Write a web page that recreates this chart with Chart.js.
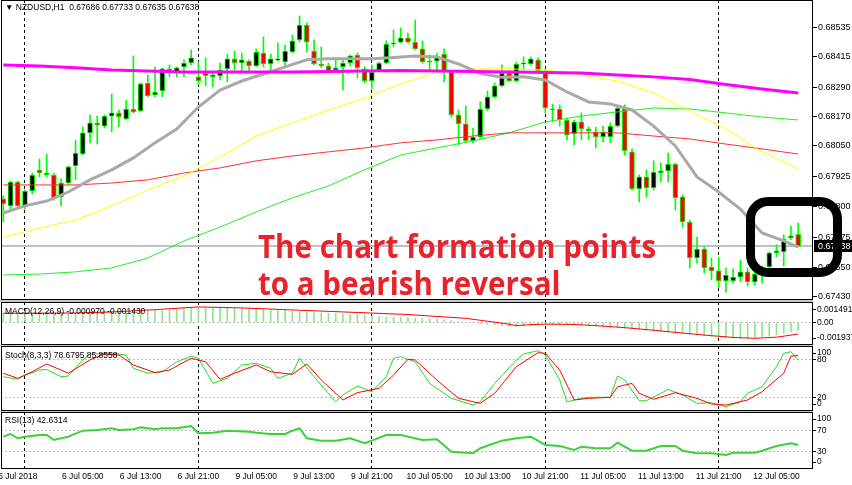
<!DOCTYPE html>
<html>
<head>
<meta charset="utf-8">
<title>NZDUSD H1</title>
<script src="https://cdn.jsdelivr.net/npm/chart.js@4.4.1/dist/chart.umd.min.js"></script>
<style>
  html, body { margin: 0; padding: 0; background: #fff; }
  #stage { position: relative; width: 852px; height: 485px; overflow: hidden; font-family: "Liberation Sans", Arial, sans-serif; }
  #stage canvas { position: absolute; left: 0; }
  .gap { position: absolute; left: 0; width: 813px; background: #c8c8c8; }
  .cap { position: absolute; font-size: 8.5px; line-height: 10px; color: #000; white-space: nowrap; }
  #note { position: absolute; left: 258px; top: 227px; color: #e8232b; font-family: "Open Sans", sans-serif; font-weight: bold; font-size: 33px; line-height: 37px; white-space: nowrap; transform: scaleX(0.895); transform-origin: 0 0; }
  #box { position: absolute; left: 746px; top: 197px; width: 96px; height: 80px; box-sizing: border-box; border: 9px solid #000; border-radius: 22px; }
</style>
</head>
<body>
<div id="stage">
  <canvas id="main" width="852" height="300" style="top:0"></canvas>
  <div class="gap" style="top:300px;height:2px"></div>
  <canvas id="macd" width="852" height="43" style="top:302px"></canvas>
  <div class="gap" style="top:345px;height:1px"></div>
  <canvas id="stoch" width="852" height="65" style="top:346px"></canvas>
  <div class="gap" style="top:411px;height:1px"></div>
  <canvas id="rsi" width="852" height="73" style="top:412px"></canvas>

  <div class="cap" style="left:5px;top:2px">&#9660; NZDUSD,H1&nbsp; 0.67686 0.67733 0.67635 0.67638</div>
  <div class="cap" style="left:5px;top:306px">MACD(12,26,9) -0.000970 -0.001430</div>
  <div class="cap" style="left:5px;top:350px">Stoch(8,3,3) 78.6795 85.8558</div>
  <div class="cap" style="left:5px;top:415px">RSI(13) 42.6314</div>

  <div id="note">The chart formation points<br>to a bearish reversal</div>
  <div id="box"></div>
</div>
<script>
// H1 candles, oldest first. Bar 3 is 5 Jul 21:00, bar 110 the live one.
const open = [
  0.67832,0.67803,0.67901,0.67799,0.67864,0.67951,0.67930,0.67930,0.67840,0.67897,
  0.67967,0.68016,0.68103,0.68144,0.68131,0.68172,0.68185,0.68160,0.68201,0.68193,
  0.68308,0.68259,0.68275,0.68366,0.68349,0.68374,0.68390,0.68333,0.68349,0.68333,
  0.68337,0.68366,0.68407,0.68390,0.68398,0.68378,0.68431,0.68386,0.68403,0.68394,
  0.68435,0.68485,0.68546,0.68439,0.68386,0.68378,0.68361,0.68374,0.68390,0.68423,
  0.68366,0.68316,0.68357,0.68390,0.68468,0.68476,0.68493,0.68476,0.68448,0.68398,
  0.68398,0.68427,0.68353,0.68177,0.68140,0.68070,0.68086,0.68201,0.68251,0.68296,
  0.68349,0.68316,0.68386,0.68386,0.68403,0.68357,0.68201,0.68201,0.68156,0.68099,
  0.68148,0.68119,0.68107,0.68086,0.68086,0.68131,0.68209,0.68025,0.67873,0.67922,
  0.67877,0.67938,0.67947,0.67975,0.67840,0.67737,0.67589,0.67626,0.67552,0.67536,
  0.67495,0.67495,0.67511,0.67532,0.67491,0.67523,0.67552,0.67610,0.67614,0.67671,
  0.67686
];
const high = [
  0.67844,0.67905,0.67905,0.67868,0.67938,0.67996,0.68016,0.67938,0.67914,0.67967,
  0.68074,0.68127,0.68177,0.68172,0.68177,0.68263,0.68197,0.68238,0.68419,0.68308,
  0.68341,0.68374,0.68370,0.68382,0.68374,0.68403,0.68444,0.68394,0.68411,0.68349,
  0.68390,0.68427,0.68439,0.68431,0.68403,0.68448,0.68497,0.68427,0.68472,0.68464,
  0.68505,0.68583,0.68555,0.68485,0.68456,0.68390,0.68411,0.68403,0.68423,0.68431,
  0.68374,0.68382,0.68394,0.68481,0.68526,0.68534,0.68513,0.68567,0.68481,0.68423,
  0.68431,0.68448,0.68357,0.68197,0.68214,0.68123,0.68230,0.68275,0.68308,0.68382,
  0.68361,0.68394,0.68415,0.68415,0.68411,0.68366,0.68222,0.68218,0.68164,0.68156,
  0.68185,0.68127,0.68127,0.68131,0.68144,0.68214,0.68218,0.68037,0.67930,0.67951,
  0.67988,0.67979,0.68020,0.67979,0.67848,0.67745,0.67675,0.67634,0.67589,0.67593,
  0.67548,0.67544,0.67581,0.67548,0.67532,0.67556,0.67614,0.67643,0.67684,0.67720,
  0.67733
];
const low = [
  0.67737,0.67786,0.67795,0.67790,0.67852,0.67922,0.67922,0.67827,0.67803,0.67889,
  0.67910,0.68012,0.68062,0.68057,0.68123,0.68107,0.68127,0.68156,0.68185,0.68189,
  0.68251,0.68251,0.68251,0.68333,0.68333,0.68333,0.68382,0.68300,0.68296,0.68292,
  0.68320,0.68312,0.68361,0.68353,0.68361,0.68374,0.68374,0.68349,0.68398,0.68374,
  0.68431,0.68476,0.68435,0.68382,0.68370,0.68349,0.68353,0.68279,0.68378,0.68329,
  0.68308,0.68283,0.68353,0.68386,0.68456,0.68472,0.68472,0.68444,0.68390,0.68357,
  0.68361,0.68312,0.68168,0.68053,0.68062,0.68062,0.68078,0.68193,0.68246,0.68292,
  0.68312,0.68312,0.68361,0.68382,0.68349,0.68185,0.68148,0.68131,0.68074,0.68053,
  0.68074,0.68074,0.68041,0.68066,0.68062,0.68127,0.68012,0.67868,0.67819,0.67840,
  0.67868,0.67901,0.67901,0.67786,0.67716,0.67548,0.67569,0.67528,0.67499,0.67466,
  0.67449,0.67486,0.67491,0.67474,0.67478,0.67486,0.67548,0.67593,0.67556,0.67663,
  0.67635
];
const close = [
  0.67811,0.67901,0.67803,0.67864,0.67930,0.67938,0.67938,0.67836,0.67897,0.67963,
  0.68020,0.68103,0.68144,0.68135,0.68172,0.68185,0.68168,0.68201,0.68189,0.68304,
  0.68255,0.68271,0.68366,0.68349,0.68370,0.68390,0.68411,0.68316,0.68337,0.68341,
  0.68361,0.68407,0.68390,0.68403,0.68378,0.68435,0.68386,0.68407,0.68407,0.68439,
  0.68481,0.68546,0.68476,0.68386,0.68378,0.68357,0.68370,0.68390,0.68419,0.68370,
  0.68316,0.68353,0.68390,0.68468,0.68472,0.68493,0.68476,0.68448,0.68394,0.68394,
  0.68419,0.68353,0.68177,0.68140,0.68070,0.68086,0.68201,0.68251,0.68296,0.68349,
  0.68316,0.68386,0.68390,0.68407,0.68357,0.68205,0.68197,0.68156,0.68094,0.68148,
  0.68119,0.68111,0.68086,0.68107,0.68131,0.68205,0.68029,0.67873,0.67922,0.67877,
  0.67942,0.67947,0.67975,0.67836,0.67737,0.67589,0.67626,0.67548,0.67536,0.67495,
  0.67519,0.67511,0.67532,0.67491,0.67523,0.67527,0.67610,0.67618,0.67667,0.67680,
  0.67638
];

// Moving averages (the grey one every 3rd).
const maIdx = [0,5,10,15,20,25,30,35,40,45,50,55,60,65,70,75,80,85,90,95,100,105,110];
const maMagenta = [0.68382,0.68378,0.68370,0.68361,0.68357,0.68353,0.68353,0.68353,0.68353,0.68355,0.68357,0.68359,
                   0.68357,0.68355,0.68353,0.68351,0.68349,0.68341,0.68333,0.68322,0.68302,0.68283,0.68267];
const maYellow = [0.67675,0.67712,0.67745,0.67803,0.67868,0.67926,0.68004,0.68090,0.68144,0.68197,0.68246,0.68304,
                  0.68353,0.68366,0.68366,0.68361,0.68341,0.68316,0.68267,0.68193,0.68119,0.68025,0.67955];
const maRed = [0.67889,0.67889,0.67889,0.67897,0.67910,0.67938,0.67959,0.67988,0.68008,0.68025,0.68041,0.68062,
               0.68074,0.68090,0.68103,0.68103,0.68103,0.68103,0.68090,0.68078,0.68057,0.68037,0.68016];
const maGreen = [0.67519,0.67523,0.67532,0.67548,0.67589,0.67659,0.67716,0.67778,0.67836,0.67885,0.67951,0.68012,
                 0.68041,0.68070,0.68103,0.68148,0.68172,0.68189,0.68205,0.68201,0.68185,0.68168,0.68156];
const grayIdx = [0,3,6,9,12,15,18,21,24,27,30,33,36,39,42,45,48,51,54,57,60,63,66,69,72,75,78,81,84,87,90,93,96,99,102,105,108,110];
const maGray = [0.67774,0.67803,0.67823,0.67860,0.67910,0.67951,0.68000,0.68062,0.68119,0.68209,0.68279,0.68316,0.68345,
                0.68374,0.68403,0.68407,0.68407,0.68407,0.68413,0.68419,0.68415,0.68386,0.68347,0.68331,0.68333,0.68320,
                0.68271,0.68230,0.68222,0.68197,0.68131,0.68049,0.67922,0.67860,0.67790,0.67692,0.67659,0.67634];

// MACD(12,26,9): histogram per bar, signal line at read points
const macdHist = [
  0.00108,0.00106,0.00105,0.00106,0.00108,0.00110,0.00111,0.00110,0.00109,0.00110,0.00113,
  0.00118,0.00123,0.00127,0.00129,0.00130,0.00130,0.00131,0.00133,0.00136,0.00139,0.00142,
  0.00147,0.00153,0.00159,0.00165,0.00172,0.00178,
  0.00176,0.00173,0.00171,0.00170,0.00169,0.00168,0.00166,0.00163,0.00159,0.00155,
  0.00150,0.00144,0.00137,0.00129,0.00124,0.00119,0.00114,0.00110,0.00106,0.00103,0.00100,
  0.00097,0.00088,0.00078,0.00068,0.00064,0.00060,0.00057,0.00055,0.00051,0.00047,0.00043,0.00039,0.00030,0.00020,0.00010,
  0.00000,-0.00008,-0.00016,-0.00026,-0.00033,-0.00040,-0.00048,-0.00055,-0.00046,-0.00038,-0.00030,
  -0.00022,-0.00023,-0.00024,-0.00025,-0.00026,-0.00033,-0.00040,-0.00048,-0.00055,-0.00062,-0.00069,
  -0.00075,-0.00083,-0.00091,-0.00099,-0.00107,-0.00115,-0.00123,-0.00131,-0.00139,-0.00147,-0.00155,-0.00163,-0.00171,-0.00179,-0.00187,-0.00194,
  -0.00193,-0.00190,-0.00185,-0.00178,-0.00168,-0.00154,-0.00135,-0.00116,-0.00097
];
const macdSigIdx = [0,10,15,21,27,33,41,49,56,64,69,71,73,75,79,83,86,90,94,98,101,104,107,110];
const macdSig = [0.00109,0.00113,0.00125,0.00153,0.00186,0.00174,0.00146,0.00119,0.00094,0.00048,-0.00010,-0.00040,
                 -0.00028,-0.00022,-0.00026,-0.00046,-0.00065,-0.00096,-0.00130,-0.00162,-0.00183,-0.00194,-0.00180,-0.00143];

// Stochastic(8,3,3)
const stochKIdx = [0,2,3,5,6,8,9,11,12,15,17,18,20,22,24,26,27,29,31,33,35,37,38,40,41,43,46,47,49,51,53,54,55,57,59,62,
                   65,66,68,71,72,74,75,77,78,80,81,84,85,86,88,89,91,92,94,96,98,100,102,103,105,107,108,109,110];
const stochK = [52.5,48.4,55,63,64,52.5,53.6,79,88.4,89.5,86.8,65.8,58,60.4,76,85,81.6,42,50,71,73.7,65.8,50,58,81.6,52.5,
                13,23.6,37.8,28.8,52.5,81.6,84,76,42,18.4,7.8,13,42,79,88.4,93.6,86.8,47.3,13,18.4,20,20,53.6,47.3,14.6,
                14.6,26.3,32.6,23.6,10.5,11.5,5.2,13,26.3,36.7,68.3,89.5,92,78.7];
const stochDIdx = [0,2,4,6,8,9,12,14,16,18,21,23,26,28,30,32,35,37,40,42,44,47,49,52,54,56,57,60,63,66,68,71,74,75,77,
                   79,81,84,85,87,88,90,93,96,98,100,103,105,108,109,110];
const stochD = [58,50,60.4,72.6,63,58,79,88.4,86.8,71,59,63,81.6,76,48.4,58,71,60.4,56.3,72.6,47.3,15.8,27.3,34.2,55,80,
                79,47.3,18.4,10.5,26.3,68.3,90.4,89.5,63,15.8,18.4,20,36.7,42,26.3,16.8,27.3,18.4,9.4,7.8,15.8,28.8,58,85,85.9];

// RSI(13)
const rsiIdx = [0,1,2,3,5,6,7,9,11,13,15,16,18,19,21,22,24,26,27,29,31,34,35,37,39,40,41,42,44,46,48,50,51,53,55,58,60,
                62,65,66,69,71,73,75,77,79,80,82,84,85,87,89,91,93,94,96,98,100,101,104,105,107,109,110];
const rsi = [58.6,63.7,55.5,58.6,61.8,61.8,52.3,58.6,70,71.3,74.6,71.3,72.6,76.4,72.6,74.6,74.6,79,65,66.2,70,68.1,66.2,
             63.7,63.7,70,74.6,55.5,51,51,55.5,46,51,61.8,61.8,52.3,53.6,30,26.9,36.5,51,55.5,58.6,42.8,40.9,33.2,39.5,
             36.5,36.5,47.1,31.9,31.9,40.9,40.9,31.9,26.9,26.9,23.7,28.1,28.1,31.9,40.9,46,42.6];

// axes
const priceTicks = [0.68535,0.68415,0.68290,0.68170,0.68050,0.67925,0.67800,0.67675,0.67550,0.67430];
const macdTicks = [0.001491, 0, -0.001937];
const macdTickLabels = ['0.001491', '0.00', '-0.001937'];
const stochTicks = [100, 80, 20, 0];
const rsiTicks = [100, 70, 30, 0];
const timeLabelBars = [2, 11, 19, 27, 35, 43, 51, 59, 67, 75, 83, 91, 99, 107];
const timeLabels = ['5 Jul 2018','6 Jul 05:00','6 Jul 13:00','6 Jul 21:00','9 Jul 05:00','9 Jul 13:00','9 Jul 21:00',
                    '10 Jul 05:00','10 Jul 13:00','10 Jul 21:00','11 Jul 05:00','11 Jul 13:00','11 Jul 21:00','12 Jul 05:00'];
const separatorBars = [3, 27, 51, 75, 99];

Chart.defaults.font.family = '"Liberation Sans", Arial, sans-serif';
Chart.defaults.font.size = 8.5;
Chart.defaults.color = '#000';
Chart.defaults.animation = false;
Chart.defaults.events = [];
Chart.defaults.plugins.legend.display = false;
Chart.defaults.plugins.tooltip.enabled = false;

// bar i sits at 3.3 + 7.226*i px; plot area runs x 1..813
const X_MIN = -0.318, X_MAX = 112.05;
const AXIS_W = 39;
const CLEAR = 'rgba(0,0,0,0)';

const pts = (idx, vals) => idx.map((x, k) => ({ x, y: vals[k] }));
const series = (vals) => vals.map((y, x) => ({ x, y }));
const line = (data, color, width, order) => ({ type: 'line', data, borderColor: color, borderWidth: width, pointRadius: 0, tension: 0, order });

const frame = {
  id: 'frame',
  afterDraw(c) {
    const { left, top, right, bottom } = c.chartArea;
    const g = c.ctx;
    g.save();
    g.strokeStyle = '#000';
    g.lineWidth = 1;
    g.strokeRect(left + 0.5, top + 0.5, right - left - 1, bottom - top - 1);
    g.restore();
  }
};

function timeAxis(showLabels) {
  const tickBars = showLabels ? [...new Set([...timeLabelBars, ...separatorBars])].sort((a, b) => a - b) : separatorBars;
  return {
    type: 'linear', min: X_MIN, max: X_MAX, offset: false,
    afterBuildTicks: s => { s.ticks = tickBars.map(value => ({ value })); },
    ticks: {
      display: showLabels, autoSkip: false, maxRotation: 0, padding: 3,
      callback: v => { const k = timeLabelBars.indexOf(v); return k < 0 ? '' : timeLabels[k]; }
    },
    grid: { offset: false, drawTicks: false, color: ctx => separatorBars.includes(ctx.tick && ctx.tick.value) ? '#000' : CLEAR },
    border: { display: false, dash: [3, 3] },
    afterFit: s => { s.height = showLabels ? 16 : 0; s.paddingLeft = 0; s.paddingRight = 0; }
  };
}

// right-hand level axis; edge labels are kept 7px inside the panel like MT4 does
function levelAxis(min, max, levels, labels, dotted) {
  return {
    position: 'right', min, max,
    afterBuildTicks: s => {
      const inset = 7 * (s.max - s.min) / s.height;
      s.ticks = levels.map(v => ({ value: Math.min(s.max - inset, Math.max(s.min + inset, v)) }));
    },
    ticks: { padding: 1, callback: (v, i) => labels[i] },
    grid: { drawTicks: true, tickLength: 3, tickColor: '#000', color: ctx => dotted.includes(levels[ctx.index]) ? '#c0c0c0' : CLEAR },
    border: { display: false, dash: [2, 2] },
    afterFit: s => { s.width = AXIS_W; s.paddingTop = 0; s.paddingBottom = 0; }
  };
}

const priceTag = {
  id: 'priceTag',
  afterDraw(c) {
    const last = close[close.length - 1];
    const y = Math.round(c.scales.y.getPixelForValue(last));
    const x = c.chartArea.right + 1;
    const g = c.ctx;
    g.save();
    g.fillStyle = '#000';
    g.fillRect(x, y - 6, 852 - x, 12);
    g.fillStyle = '#fff';
    g.font = '9px "Liberation Sans", Arial, sans-serif';
    g.textBaseline = 'middle';
    g.fillText(last.toFixed(5), x + 4, y + 0.5);
    g.restore();
  }
};

const bullOrBear = ctx => close[ctx.dataIndex] >= open[ctx.dataIndex] ? '#000' : '#ff0000';

new Chart(document.getElementById('main'), {
  type: 'bar',
  data: {
    datasets: [
      line(pts(maIdx, maMagenta), '#ff00ff', 3, 0),
      line(pts(grayIdx, maGray), '#a9a9a9', 3, 0),
      line(pts(maIdx, maYellow), '#ffff00', 1, 0),
      line(pts(maIdx, maRed), '#ff3030', 1, 0),
      line(pts(maIdx, maGreen), '#22ee22', 1, 0),
      { data: open.map((o, i) => ({ x: i, y: [o, close[i]] })), grouped: false, barThickness: 5,
        backgroundColor: bullOrBear, borderColor: '#00ff00', borderWidth: 1, borderSkipped: false, order: 1 },
      { data: low.map((l, i) => ({ x: i, y: [l, high[i]] })), grouped: false, barThickness: 1,
        backgroundColor: '#00ff00', borderWidth: 0, order: 2 },
      line([{ x: X_MIN, y: close[close.length - 1] }, { x: X_MAX, y: close[close.length - 1] }], '#b8c2cc', 2, 3)
    ]
  },
  options: {
    responsive: false,
    layout: { padding: { left: 1, right: 0, top: 0, bottom: 0 } },
    scales: {
      x: timeAxis(false),
      y: {
        position: 'right', min: 0.674164, max: 0.686488,
        afterBuildTicks: s => { s.ticks = priceTicks.map(value => ({ value })); },
        ticks: { padding: 1, callback: v => v.toFixed(5), font: { size: 9 } },
        grid: { drawOnChartArea: false, drawTicks: true, tickLength: 4, tickColor: '#000' },
        border: { display: false },
        afterFit: s => { s.width = AXIS_W; s.paddingTop = 0; s.paddingBottom = 0; }
      }
    }
  },
  plugins: [frame, priceTag]
});

new Chart(document.getElementById('macd'), {
  type: 'bar',
  data: {
    datasets: [
      line(pts(macdSigIdx, macdSig), '#ff0000', 1, 0),
      { data: series(macdHist), grouped: false, barThickness: 1, backgroundColor: '#8fe38f', borderWidth: 0, order: 1 }
    ]
  },
  options: {
    responsive: false,
    layout: { padding: { left: 1, right: 0, top: 0, bottom: 0 } },
    scales: { x: timeAxis(false), y: levelAxis(-0.002749, 0.002458, macdTicks, macdTickLabels, [0]) }
  },
  plugins: [frame]
});

new Chart(document.getElementById('stoch'), {
  type: 'line',
  data: {
    datasets: [
      line(pts(stochDIdx, stochD), '#ff0000', 1, 0),
      line(pts(stochKIdx, stochK), '#22dd22', 1, 1)
    ]
  },
  options: {
    responsive: false,
    layout: { padding: { left: 1, right: 0, top: 0, bottom: 0 } },
    scales: { x: timeAxis(false), y: levelAxis(-1.6, 101, stochTicks, stochTicks.map(String), [80, 20]) }
  },
  plugins: [frame]
});

new Chart(document.getElementById('rsi'), {
  type: 'line',
  data: { datasets: [line(pts(rsiIdx, rsi), '#3ad23a', 2, 0)] },
  options: {
    responsive: false,
    layout: { padding: { left: 1, right: 0, top: 0, bottom: 0 } },
    scales: { x: timeAxis(true), y: levelAxis(-3, 105.6, rsiTicks, rsiTicks.map(String), [70, 30]) }
  },
  plugins: [frame]
});
</script>
</body>
</html>
